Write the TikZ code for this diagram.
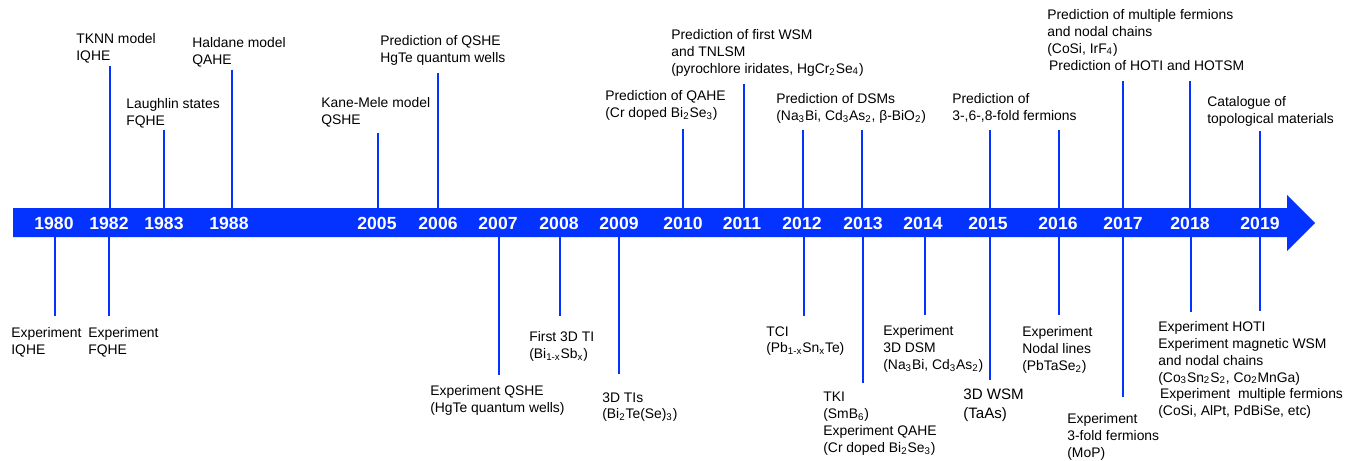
\documentclass[tikz,border=0pt]{standalone}
\usepackage{fontspec}
\setmainfont{Liberation Sans}
\definecolor{lineblue}{RGB}{4,51,255}

\begin{document}
\begin{tikzpicture}[x=0.02cm, y=-0.02cm,
        year/.style={text=white,inner sep=0,font=\fontsize{10}{12}\selectfont\bfseries},
        event/.style={anchor=north west,align=left,inner sep=0,font=\fontsize{7.9}{9.6}\selectfont},
        tick/.style={draw=lineblue,line width=1.1pt}]
        \useasboundingbox (0,0) rectangle (1352,460);
        % the time arrow
        \fill[lineblue] (13,208) -- (1287,208) -- (1287,195) -- (1315,223)
            -- (1287,251) -- (1287,237) -- (13,237) -- cycle;
        \coordinate (bartop) at (0,208);
        \coordinate (barbot) at (0,237);
        \node[year] at (54,223) (y1980) {1980};
        \node[year] at (109,223) (y1982) {1982};
        \node[year] at (164,223) (y1983) {1983};
        \node[year] at (229,223) (y1988) {1988};
        \node[year] at (377,223) (y2005) {2005};
        \node[year] at (438,223) (y2006) {2006};
        \node[year] at (498,223) (y2007) {2007};
        \node[year] at (559,223) (y2008) {2008};
        \node[year] at (619,223) (y2009) {2009};
        \node[year] at (683,223) (y2010) {2010};
        \node[year] at (742,223) (y2011) {2011};
        \node[year] at (802,223) (y2012) {2012};
        \node[year] at (863,223) (y2013) {2013};
        \node[year] at (923,223) (y2014) {2014};
        \node[year] at (988,223) (y2015) {2015};
        \node[year] at (1058,223) (y2016) {2016};
        \node[year] at (1123,223) (y2017) {2017};
        \node[year] at (1190,223) (y2018) {2018};
        \node[year] at (1260,223) (y2019) {2019};
        % theory, above the arrow
        \node[event] at (76,33) (tknn) {TKNN model\\IQHE};
        \node[event] at (126,98) (laughlin) {Laughlin states\\FQHE};
        \node[event] at (192,37) (haldane) {Haldane model\\QAHE};
        \node[event] at (321,97) (kanemele) {Kane-Mele model\\QSHE};
        \node[event] at (380,35) (predqshe) {Prediction of QSHE\\HgTe quantum wells};
        \node[event] at (605,90) (predqahe) {Prediction of QAHE\\(Cr doped Bi\textsubscript{2}Se\textsubscript{3})};
        \node[event] at (671,29) (predwsm) {Prediction of first WSM\\and TNLSM\\(pyrochlore iridates, HgCr\textsubscript{2}Se\textsubscript{4})};
        \node[event] at (776,93) (preddsm) {Prediction of DSMs\\(Na\textsubscript{3}Bi, Cd\textsubscript{3}As\textsubscript{2}, β-BiO\textsubscript{2})};
        \node[event] at (952,93) (predfold) {Prediction of\\3-,6-,8-fold fermions};
        \node[event] at (1047,9) (predmulti) {Prediction of multiple fermions\\and nodal chains\\(CoSi, IrF\textsubscript{4})\\\kern1pt Prediction of HOTI and HOTSM};
        \node[event] at (1207,96) (catalogue) {Catalogue of\\topological materials};
        % experiments, below the arrow
        \node[event] at (11,327) (expiqhe) {Experiment\\IQHE};
        \node[event] at (88,327) (expfqhe) {Experiment\\FQHE};
        \node[event] at (430,385) (expqshe) {Experiment QSHE\\(HgTe quantum wells)};
        \node[event] at (529,331) (firstti) {First 3D TI\\(Bi\textsubscript{1-x}Sb\textsubscript{x})};
        \node[event] at (602,392) (tis) {3D TIs\\(Bi\textsubscript{2}Te(Se)\textsubscript{3})};
        \node[event] at (766,326) (tci) {TCI\\(Pb\textsubscript{1-x}Sn\textsubscript{x}Te)};
        \node[event] at (823,392) (tki) {TKI\\(SmB\textsubscript{6})\\Experiment QAHE\\(Cr doped Bi\textsubscript{2}Se\textsubscript{3})};
        \node[event] at (883,325) (expdsm) {Experiment\\3D DSM\\(Na\textsubscript{3}Bi, Cd\textsubscript{3}As\textsubscript{2})};
        \node[event,font=\fontsize{8.6}{10.4}\selectfont] at (963,389) (expwsm) {3D WSM\\(TaAs)};
        \node[event] at (1022,326) (expnodal) {Experiment\\Nodal lines\\(PbTaSe\textsubscript{2})};
        \node[event] at (1067,413) (expfold) {Experiment\\3-fold fermions\\(MoP)};
        \node[event] at (1158,321) (exphoti) {Experiment HOTI\\Experiment magnetic WSM\\and nodal chains\\(Co\textsubscript{3}Sn\textsubscript{2}S\textsubscript{2}, Co\textsubscript{2}MnGa)\\\kern1pt Experiment\ \ multiple fermions\\(CoSi, AlPt, PdBiSe, etc)};
        % tick ends
        \coordinate (u1982) at (110,66);
        \coordinate (u1983) at (164,130);
        \coordinate (u1988) at (232,70);
        \coordinate (u2005) at (378,133);
        \coordinate (u2006) at (438,73);
        \coordinate (u2010) at (683,129);
        \coordinate (u2011) at (744,84);
        \coordinate (u2012) at (803,130);
        \coordinate (u2013) at (862,130);
        \coordinate (u2015) at (990,130);
        \coordinate (u2016) at (1059,130);
        \coordinate (u2017) at (1123,81);
        \coordinate (u2018) at (1190,81);
        \coordinate (u2019) at (1260,131);
        \coordinate (d1980) at (55,316);
        \coordinate (d1982) at (109,316);
        \coordinate (d2007) at (499,375);
        \coordinate (d2008) at (560,316);
        \coordinate (d2009) at (619,374);
        \coordinate (d2012) at (804,316);
        \coordinate (d2013) at (863,383);
        \coordinate (d2014) at (925,315);
        \coordinate (d2015) at (990,380);
        \coordinate (d2016) at (1059,315);
        \coordinate (d2017) at (1123,397);
        \coordinate (d2018) at (1191,312);
        \coordinate (d2019) at (1260,311);
        \draw[tick] (u1982 |- bartop) -- (u1982);
        \draw[tick] (u1983 |- bartop) -- (u1983);
        \draw[tick] (u1988 |- bartop) -- (u1988);
        \draw[tick] (u2005 |- bartop) -- (u2005);
        \draw[tick] (u2006 |- bartop) -- (u2006);
        \draw[tick] (u2010 |- bartop) -- (u2010);
        \draw[tick] (u2011 |- bartop) -- (u2011);
        \draw[tick] (u2012 |- bartop) -- (u2012);
        \draw[tick] (u2013 |- bartop) -- (u2013);
        \draw[tick] (u2015 |- bartop) -- (u2015);
        \draw[tick] (u2016 |- bartop) -- (u2016);
        \draw[tick] (u2017 |- bartop) -- (u2017);
        \draw[tick] (u2018 |- bartop) -- (u2018);
        \draw[tick] (u2019 |- bartop) -- (u2019);
        \draw[tick] (d1980 |- barbot) -- (d1980);
        \draw[tick] (d1982 |- barbot) -- (d1982);
        \draw[tick] (d2007 |- barbot) -- (d2007);
        \draw[tick] (d2008 |- barbot) -- (d2008);
        \draw[tick] (d2009 |- barbot) -- (d2009);
        \draw[tick] (d2012 |- barbot) -- (d2012);
        \draw[tick] (d2013 |- barbot) -- (d2013);
        \draw[tick] (d2014 |- barbot) -- (d2014);
        \draw[tick] (d2015 |- barbot) -- (d2015);
        \draw[tick] (d2016 |- barbot) -- (d2016);
        \draw[tick] (d2017 |- barbot) -- (d2017);
        \draw[tick] (d2018 |- barbot) -- (d2018);
        \draw[tick] (d2019 |- barbot) -- (d2019);
\end{tikzpicture}
\end{document}
